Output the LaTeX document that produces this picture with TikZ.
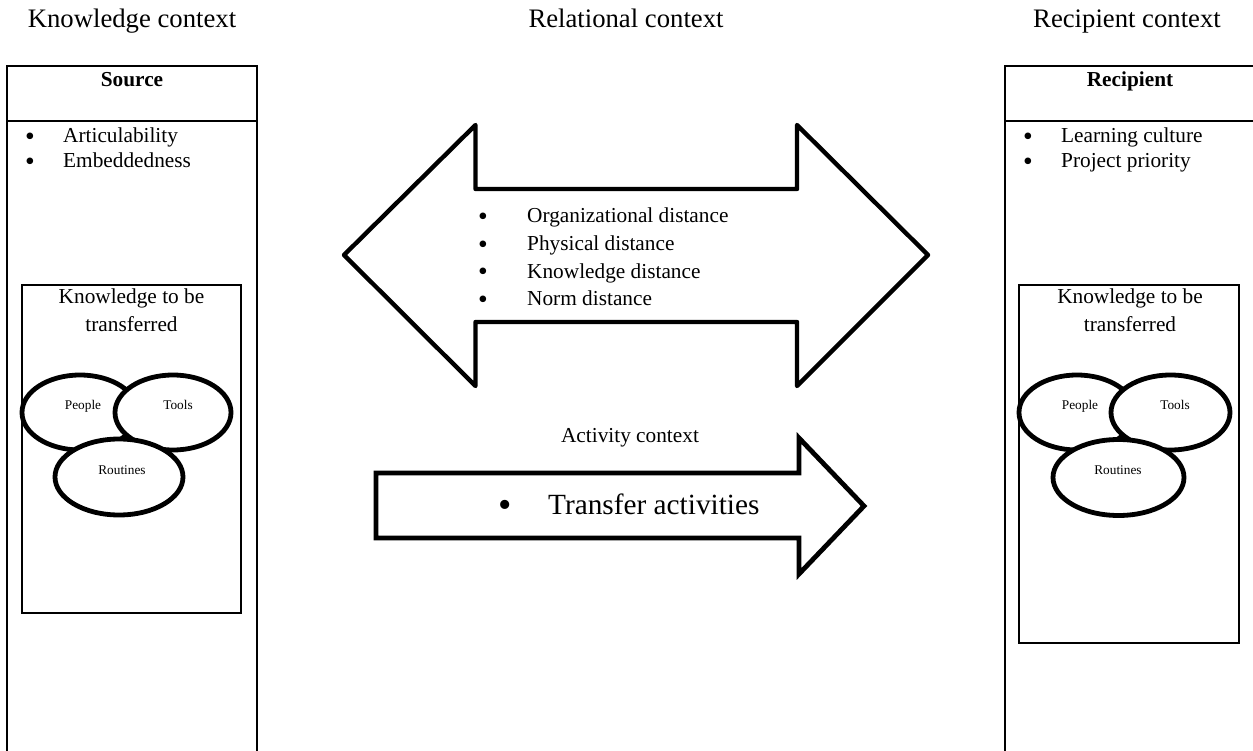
\documentclass[tikz,border=0pt]{standalone}
\usepackage{fontspec}
\setmainfont{Liberation Serif}
\usetikzlibrary{shapes.geometric}
\newcommand{\bul}{\raisebox{-0.11em}{\scalebox{1.3}{•}}}
\begin{document}
\begin{tikzpicture}[x=1pt,y=-1pt,
  title/.style={font=\fontsize{26.7}{32}\selectfont,anchor=base,inner sep=0pt},
  body/.style={font=\fontsize{21.3}{25}\selectfont,inner sep=0pt},
  headtxt/.style={font=\fontsize{21.3}{25}\selectfont\bfseries,anchor=base,inner sep=0pt},
  smalltxt/.style={font=\fontsize{13.3}{16}\selectfont,anchor=base,inner sep=0pt},
  bigtxt/.style={font=\fontsize{29.3}{35}\selectfont,inner sep=0pt},
  outerbox/.style={draw,line width=2.6pt},
  innerbox/.style={draw,line width=1.9pt},
  bigarrow/.style={draw,line width=4.4pt,line join=round,fill=white},
  blob/.style={ellipse,draw,line width=4.8pt,fill=white,inner sep=0pt},
]
\useasboundingbox (0,0) rectangle (1253,751);
\clip (0,0) rectangle (1253,751);

% titles
\node[title] (kc) at (132,28) {Knowledge context};
\node[title] (rc) at (626,28) {Relational context};
\node[title] (pc) at (1127,28) {Recipient context};

% source box
\draw[outerbox] (7,760) -- (7,66) -- (257,66) -- (257,760);
\draw[outerbox] (7,121) -- (257,121);
\node[headtxt] (src) at (132,87) {Source};
\node[body,anchor=base] (sb1) at (30,143) {\bul};
\node[body,anchor=base west] (st1) at (63,143) {Articulability};
\node[body,anchor=base] (sb2) at (30,168) {\bul};
\node[body,anchor=base west] (st2) at (63,168) {Embeddedness};

\draw[innerbox] (22,285) rectangle (241,613);
\node[body,anchor=base] (sk1) at (131.5,304) {Knowledge to be};
\node[body,anchor=base] (sk2) at (131.5,331) {transferred};
\node[blob,minimum width=116pt,minimum height=75pt] (sp) at (80,412.5) {};
\node[blob,minimum width=116pt,minimum height=75pt] (st) at (173,412.5) {};
\node[blob,minimum width=128pt,minimum height=76pt] (sr) at (119,477) {};
\node[smalltxt] (spl) at (83,409) {People};
\node[smalltxt] (stl) at (178,409) {Tools};
\node[smalltxt] (srl) at (122,474) {Routines};

% recipient box
\draw[outerbox] (1005,760) -- (1005,66) -- (1258,66) -- (1258,760);
\draw[outerbox] (1005,121) -- (1258,121);
\node[headtxt] (rcp) at (1130,87) {Recipient};
\node[body,anchor=base] (rb1) at (1028,143) {\bul};
\node[body,anchor=base west] (rt1) at (1061,143) {Learning culture};
\node[body,anchor=base] (rb2) at (1028,168) {\bul};
\node[body,anchor=base west] (rt2) at (1061,168) {Project priority};

\draw[innerbox] (1019,285) rectangle (1239,643);
\node[body,anchor=base] (rk1) at (1130,304) {Knowledge to be};
\node[body,anchor=base] (rk2) at (1130,331) {transferred};
\node[blob,minimum width=116pt,minimum height=75pt] (rp) at (1077,412.5) {};
\node[blob,minimum width=119pt,minimum height=75pt] (rt) at (1170.5,412.5) {};
\node[blob,minimum width=131pt,minimum height=76pt] (rr) at (1118.5,477.5) {};
\node[smalltxt] (rpl) at (1080,409) {People};
\node[smalltxt] (rtl) at (1175,409) {Tools};
\node[smalltxt] (rrl) at (1118,474) {Routines};

% relational double arrow
\draw[bigarrow] (344,255) -- (475.5,125) -- (475.5,189) -- (797,189) -- (797,125)
  -- (928,255) -- (797,386) -- (797,322) -- (475.5,322) -- (475.5,386) -- cycle;
\node[body,anchor=base] (db1) at (483,223) {\bul};
\node[body,anchor=base west] (dt1) at (527,223) {Organizational distance};
\node[body,anchor=base] (db2) at (483,250.7) {\bul};
\node[body,anchor=base west] (dt2) at (527,250.7) {Physical distance};
\node[body,anchor=base] (db3) at (483,278.3) {\bul};
\node[body,anchor=base west] (dt3) at (527,278.3) {Knowledge distance};
\node[body,anchor=base] (db4) at (483,306) {\bul};
\node[body,anchor=base west] (dt4) at (527,306) {Norm distance};

% activity arrow
\node[body,anchor=base] (ac) at (630,442) {Activity context};
\draw[bigarrow,line width=4.8pt,line join=miter] (376,473) -- (799,473) -- (799,438) -- (864,506)
  -- (799,574) -- (799,538) -- (376,538) -- cycle;
\node[bigtxt,anchor=base] (ab) at (505,514) {\bul};
\node[bigtxt,anchor=base west] (at) at (548,514) {Transfer activities};
\end{tikzpicture}
\end{document}
